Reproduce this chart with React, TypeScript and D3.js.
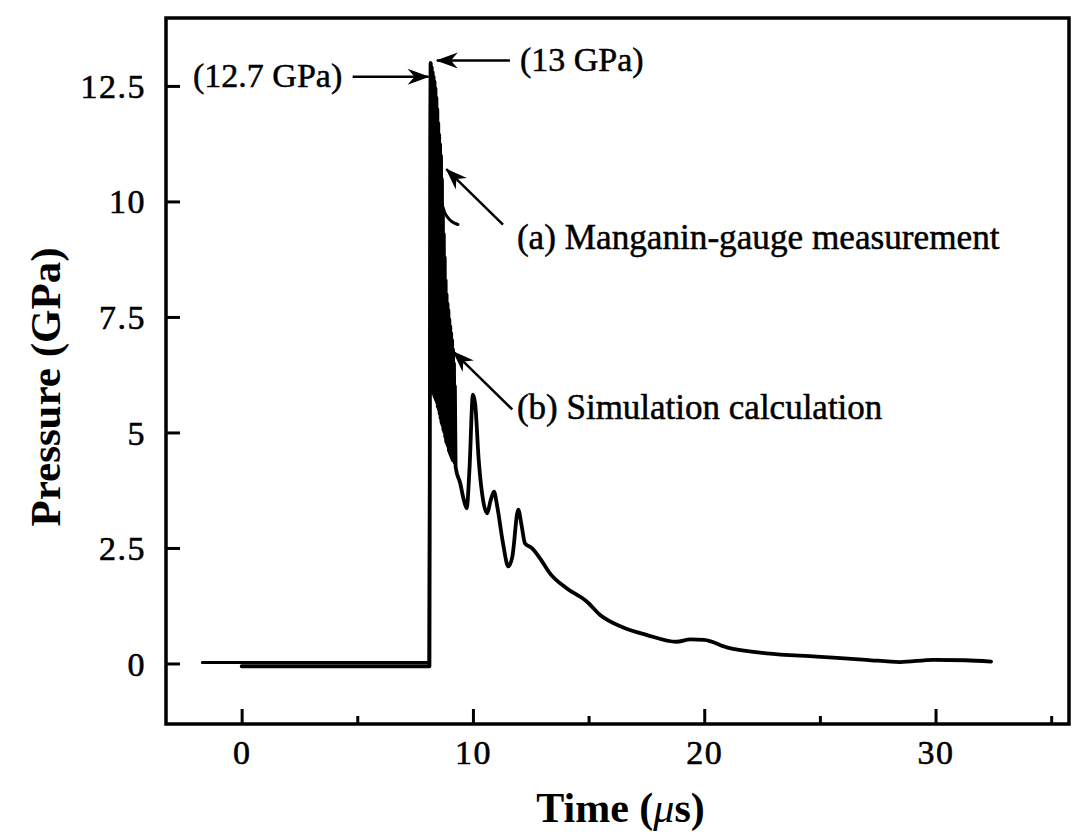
import React, { useRef, useEffect } from "react"
import * as d3 from "d3"

const chart_width = 1075
const chart_height = 836
const box = { left: 166, right: 1069, top: 18, bottom: 724 }

// (b) simulation calculation, time in us, pressure in GPa
const simTime = [
  0, 8.12, 8.14, 8.17,
  8.18, 8.2, 8.22, 8.24, 8.26, 8.28, 8.3, 8.32, 8.34, 8.36, 8.38, 8.4,
  8.42, 8.44, 8.46, 8.48, 8.5, 8.52, 8.54, 8.56, 8.58, 8.6, 8.62, 8.64,
  8.66, 8.68, 8.7, 8.72, 8.74, 8.76, 8.78, 8.8, 8.82, 8.84, 8.86, 8.88,
  8.9, 8.92, 8.94, 8.96, 8.98, 9.0, 9.02, 9.04, 9.06, 9.08, 9.1, 9.12,
  9.14, 9.16, 9.18, 9.2, 9.22, 9.25,
  9.45, 9.6, 9.73, 9.85, 10.0, 10.1, 10.25, 10.45,
  10.62, 10.75, 10.91, 11.05, 11.3, 11.53, 11.7, 11.96, 12.1, 12.25, 12.54,
  13.0, 13.33, 14.05, 14.92, 15.5, 16.5, 17.5, 18.8, 19.4, 20.0, 20.97,
  22.7, 24.86, 27.0, 28.46, 29.9, 31.3, 32.4,
]
const simPressure = [
  -0.06, -0.06, 6.0, 13.0,
  12.98, 6.0, 12.9, 5.9, 12.8, 5.85, 12.7, 5.8, 12.6, 5.75, 12.45, 5.7,
  12.25, 5.65, 12.0, 5.55, 11.7, 5.5, 11.45, 5.4, 11.25, 5.3, 11.0, 5.2,
  10.5, 5.15, 9.8, 5.05, 9.3, 5.0, 8.8, 4.9, 8.3, 4.8, 8.0, 4.75,
  7.8, 4.7, 7.65, 4.6, 7.45, 4.55, 7.3, 4.5, 7.15, 4.45, 7.0, 4.4,
  6.8, 4.4, 6.5, 4.35, 6.0, 4.25,
  3.9, 3.55, 3.36, 4.2, 5.82, 5.6, 4.4, 3.5,
  3.25, 3.5, 3.72, 3.4, 2.6, 2.1, 2.3, 3.33, 3.0, 2.6, 2.5,
  2.2, 1.95, 1.63, 1.34, 1.05, 0.78, 0.62, 0.47, 0.52, 0.51, 0.35,
  0.22, 0.15, 0.08, 0.03, 0.08, 0.07, 0.04,
]

// (a) manganin-gauge measurement
const gaugeTime = [-1.7, 8.1, 8.13, 8.17, 8.3, 8.45, 8.58, 8.7, 8.79, 8.9, 9.05, 9.2, 9.35]
const gaugePressure = [0.02, 0.02, 6.0, 12.7, 12.0, 11.0, 10.11, 9.88, 9.75, 9.66, 9.58, 9.53, 9.5]

const xTicks = [0, 10, 20, 30]
const xMinorTicks = [5, 15, 25, 35]
const yTicks = [0, 2.5, 5, 7.5, 10, 12.5]

// annotation: text anchor (t, p) and arrow from -> to in data units
const notes = [
  { text: "(12.7 GPa)", size: 34, t: -2.1, p: 12.48, from: [4.8, 12.7], to: [8.08, 12.7] },
  { text: "(13 GPa)", size: 34, t: 12.03, p: 12.82, from: [11.6, 13.05], to: [8.44, 13.05] },
  { text: "(a) Manganin-gauge measurement", size: 35.2, t: 11.9, p: 8.97, from: [11.3, 9.5], to: [8.85, 10.7] },
  { text: "(b) Simulation calculation", size: 35, t: 11.9, p: 5.29, from: [11.7, 5.5], to: [9.15, 6.75] },
]

const serif = "'Liberation Serif', 'Times New Roman', serif"

const PressureChart = () => {
  const ref = useRef(null)

  useEffect(() => {
    if (!ref.current) return
    const svg = d3.select(ref.current)
    svg.selectAll("*").remove()

    const x = d3.scaleLinear().domain([-3.27, 35.77]).range([box.left, box.right])
    const y = d3.scaleLinear().domain([-1.31, 13.97]).range([box.bottom, box.top])

    svg
      .append("defs")
      .append("marker")
      .attr("id", "head")
      .attr("markerUnits", "userSpaceOnUse")
      .attr("viewBox", "-22 -9 24 18")
      .attr("markerWidth", 24)
      .attr("markerHeight", 18)
      .attr("refX", 0)
      .attr("refY", 0)
      .attr("orient", "auto")
      .append("path")
      .attr("d", "M1,0 L-21,-8 L-14,0 L-21,8 Z")
      .attr("fill", "#000")

    // curves
    const line = d3
      .line()
      .x(d => x(d[0]))
      .y(d => y(d[1]))
      .curve(d3.curveMonotoneX)

    svg
      .append("path")
      .datum(gaugeTime.map((t, i) => [t, gaugePressure[i]]))
      .attr("d", line)
      .attr("fill", "none")
      .attr("stroke", "#000")
      .attr("stroke-width", 3)
      .attr("stroke-linejoin", "round")
      .attr("stroke-linecap", "round")

    svg
      .append("path")
      .datum(simTime.map((t, i) => [t, simPressure[i]]))
      .attr("d", line)
      .attr("fill", "none")
      .attr("stroke", "#000")
      .attr("stroke-width", 3.8)
      .attr("stroke-linejoin", "round")
      .attr("stroke-linecap", "round")

    // axes, ticks inward
    const xAxis = d3.axisBottom(x).tickValues(xTicks).tickSize(-15).tickPadding(22).tickFormat(d => String(d))
    const xMinor = d3.axisBottom(x).tickValues(xMinorTicks).tickSize(-8).tickFormat(() => "")
    const yAxis = d3.axisLeft(y).tickValues(yTicks).tickSize(-14).tickPadding(20).tickFormat(d => String(d))

    const gx = svg.append("g").attr("transform", "translate(0," + box.bottom + ")").call(xAxis)
    const gxm = svg.append("g").attr("transform", "translate(0," + box.bottom + ")").call(xMinor)
    const gy = svg.append("g").attr("transform", "translate(" + box.left + ",0)").call(yAxis)

    ;[gx, gxm, gy].forEach(g => {
      g.select(".domain").remove()
      g.selectAll("line").attr("stroke", "#000").attr("stroke-width", 3)
      g.selectAll("text")
        .attr("font-family", serif)
        .attr("font-size", 34)
        .attr("fill", "#000")
        .attr("stroke", "#000")
        .attr("stroke-width", 0.6)
        .attr("letter-spacing", 1.5)
    })
    gx.selectAll("text").attr("dy", null).attr("y", 40)
    gy.selectAll("text").attr("dy", "0.34em")

    svg
      .append("rect")
      .attr("x", box.left)
      .attr("y", box.top)
      .attr("width", box.right - box.left)
      .attr("height", box.bottom - box.top)
      .attr("fill", "none")
      .attr("stroke", "#000")
      .attr("stroke-width", 3.5)

    // annotations
    notes.forEach(n => {
      svg
        .append("line")
        .attr("x1", x(n.from[0]))
        .attr("y1", y(n.from[1]))
        .attr("x2", x(n.to[0]))
        .attr("y2", y(n.to[1]))
        .attr("stroke", "#000")
        .attr("stroke-width", 2.5)
        .attr("marker-end", "url(#head)")
      svg
        .append("text")
        .attr("x", x(n.t))
        .attr("y", y(n.p))
        .attr("font-family", serif)
        .attr("font-size", n.size)
        .attr("fill", "#000")
        .attr("stroke", "#000")
        .attr("stroke-width", 0.5)
        .text(n.text)
    })

    // axis titles
    const xt = svg
      .append("text")
      .attr("x", (box.left + box.right) / 2 + 3)
      .attr("y", 822)
      .attr("text-anchor", "middle")
      .attr("font-family", serif)
      .attr("font-weight", "bold")
      .attr("font-size", 42)
    xt.append("tspan").text("Time (")
    xt.append("tspan").attr("font-style", "italic").attr("font-weight", "normal").text("\u03bc")
    xt.append("tspan").text("s)")

    svg
      .append("text")
      .attr("transform", "translate(60,387) rotate(-90)")
      .attr("text-anchor", "middle")
      .attr("font-family", serif)
      .attr("font-weight", "bold")
      .attr("font-size", 43)
      .text("Pressure (GPa)")
  }, [])

  return <svg ref={ref} width={chart_width} height={chart_height} style={{ display: "block", background: "#fff" }} />
}

export default function App() {
  return (
    <div style={{ position: "absolute", left: 0, top: 0 }}>
      <PressureChart />
    </div>
  )
}
